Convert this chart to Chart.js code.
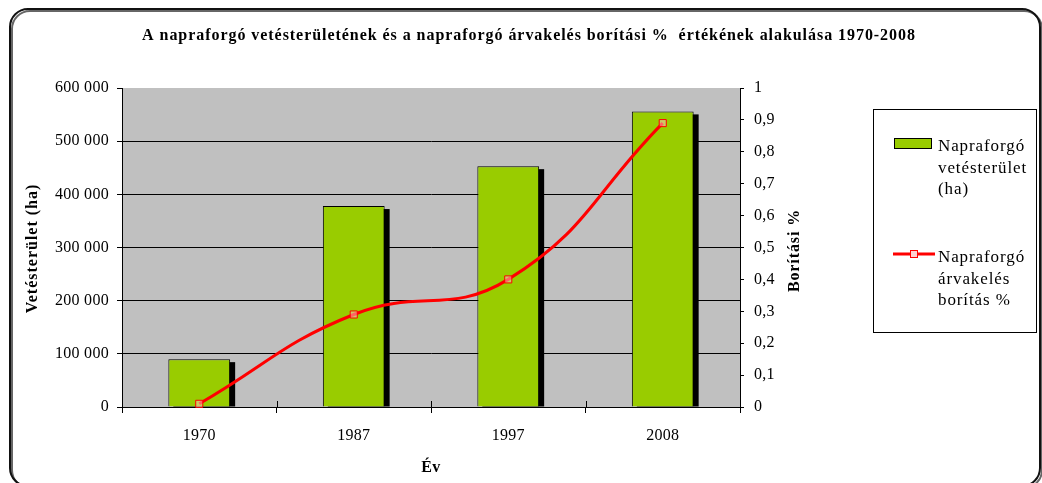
<!DOCTYPE html>
<html>
<head>
<meta charset="utf-8">
<script src="https://cdn.jsdelivr.net/npm/chart.js@4/dist/chart.umd.min.js"></script>
<style>
  body { margin: 0; background: #fff; }
  canvas { display: block; }
</style>
</head>
<body>
<canvas id="myChart" width="1042" height="483"></canvas>
<script>
// adatok
const years = ['1970', '1987', '1997', '2008'];
const vetesterulet = [90000, 378000, 453000, 556000];
const boritas = [0.01, 0.29, 0.40, 0.89];

const chartTitle = 'A napraforgó vetésterületének és a napraforgó árvakelés borítási %  értékének alakulása 1970-2008';
const leftTitle = 'Vetésterület (ha)';
const rightTitle = 'Borítási %';
const xTitle = 'Év';
const legendBar = ['Napraforgó', 'vetésterület', '(ha)'];
const legendLine = ['Napraforgó', 'árvakelés', 'borítás %'];

const serif = "'Liberation Serif', 'Times New Roman', serif";

function fmtThousands(v) {
  return String(v).replace(/\B(?=(\d{3})+(?!\d))/g, ' ');
}
function fmtComma(v) {
  const r = Math.round(v * 10) / 10;
  return (r % 1 === 0 ? String(r) : r.toFixed(1)).replace('.', ',');
}

function text(c, str, x, y, font, spacing, align, rot) {
  c.save();
  c.font = font;
  c.letterSpacing = spacing;
  c.fillStyle = '#000';
  c.textAlign = align || 'left';
  c.textBaseline = 'middle';
  c.translate(x, y);
  if (rot) c.rotate(rot);
  c.fillText(str, 0, 0);
  c.restore();
}

// keret, szürke háttér, árnyék, feliratok, jelmagyarázat
const decor = {
  id: 'decor',
  beforeDraw(chart) {
    const c = chart.ctx, a = chart.chartArea;
    c.save();
    c.fillStyle = '#C0C0C0';
    c.fillRect(a.left, a.top, a.right - a.left, a.bottom - a.top);
    c.restore();
    c.letterSpacing = '0.3px';
  },
  beforeDatasetDraw(chart, args) {
    if (args.meta.type !== 'bar') return;
    const c = chart.ctx;
    c.save();
    c.fillStyle = '#000';
    args.meta.data.forEach(el => {
      const p = el.getProps(['x', 'y', 'base', 'width'], true);
      c.fillRect(p.x - p.width / 2 + 5, p.y + 3, p.width, p.base - p.y - 3);
    });
    c.restore();
  },
  afterDraw(chart) {
    const c = chart.ctx, a = chart.chartArea;
    c.save();
    c.letterSpacing = '0px';

    // x tengely osztásjelek befelé
    const xs = chart.scales.x;
    const half = (xs.getPixelForValue(1) - xs.getPixelForValue(0)) / 2;
    c.strokeStyle = '#000';
    c.lineWidth = 1;
    c.beginPath();
    for (let i = 0; i <= years.length; i++) {
      const px = Math.round(xs.getPixelForValue(i) - half) + 0.5;
      c.moveTo(px, a.bottom);
      c.lineTo(px, a.bottom - 6);
    }
    c.stroke();

    const midY = (a.top + a.bottom) / 2;
    text(c, chartTitle, 529, 36, 'bold 16px ' + serif, '0.95px', 'center');
    text(c, leftTitle, 33, midY + 1, 'bold 16px ' + serif, '1px', 'center', -Math.PI / 2);
    text(c, rightTitle, 795, midY + 3, 'bold 16px ' + serif, '0.9px', 'center', -Math.PI / 2);
    text(c, xTitle, (a.left + a.right) / 2, 468, 'bold 16px ' + serif, '0.5px', 'center');

    // jelmagyarázat
    c.strokeStyle = '#000';
    c.lineWidth = 1;
    c.strokeRect(873.5, 109.5, 163, 223);
    legendBar.forEach((t, i) => text(c, t, 938, 147 + i * 21.5, '17px ' + serif, '0.9px'));
    legendLine.forEach((t, i) => text(c, t, 938, 258 + i * 21.5, '17px ' + serif, '0.9px'));
    c.fillStyle = '#99CC00';
    c.fillRect(894, 138, 38, 11);
    c.strokeRect(894.5, 138.5, 37, 10);
    c.strokeStyle = '#FF0000';
    c.lineWidth = 3;
    c.beginPath();
    c.moveTo(893, 254);
    c.lineTo(935, 254);
    c.stroke();
    c.lineWidth = 1;
    c.fillStyle = '#FFD0D0';
    c.fillRect(910, 250.5, 7, 7);
    c.strokeRect(910.5, 250.5, 7, 7);

    // lekerekített keret
    c.strokeStyle = '#111';
    c.lineWidth = 2;
    c.shadowColor = 'rgba(0,0,0,0.6)';
    c.shadowOffsetX = 2;
    c.shadowOffsetY = 2;
    c.beginPath();
    c.roundRect(10, 9, 1030, 477, 18);
    c.stroke();
    c.restore();
  }
};

const ctx = document.getElementById('myChart');

const mixedChart = new Chart(ctx, {
  data: {
    labels: years,
    datasets: [{
      type: 'line',
      label: 'Napraforgó árvakelés borítás %',
      data: boritas,
      yAxisID: 'y1',
      order: 1,
      borderColor: '#FF0000',
      borderWidth: 3,
      tension: 0.45,
      fill: false,
      clip: false,
      pointStyle: 'rect',
      pointRadius: 5,
      pointBorderWidth: 1,
      pointBorderColor: '#FF0000',
      pointBackgroundColor: 'rgba(255,200,200,0.5)'
    }, {
      type: 'bar',
      label: 'Napraforgó vetésterület (ha)',
      data: vetesterulet,
      yAxisID: 'y',
      order: 2,
      clip: 0,
      backgroundColor: '#99CC00',
      borderColor: '#000',
      borderWidth: 1,
      barPercentage: 0.4,
      categoryPercentage: 1
    }]
  },
  options: {
    responsive: false,
    animation: false,
    devicePixelRatio: 1,
    layout: { padding: { left: 10, right: 242, top: 88, bottom: 0 } },
    plugins: {
      legend: { display: false },
      tooltip: { enabled: false },
      title: { display: false }
    },
    scales: {
      x: {
        offset: true,
        grid: { display: true, drawOnChartArea: false, offset: true, tickLength: 6, color: '#000', tickColor: '#000' },
        border: { color: '#000', width: 1 },
        ticks: { color: '#000', padding: 13, font: { family: serif, size: 16 } },
        afterFit(scale) { scale.height = 76; }
      },
      y: {
        position: 'left',
        min: 0,
        max: 600000,
        ticks: { stepSize: 100000, color: '#000', padding: 8, font: { family: serif, size: 16 }, callback: v => fmtThousands(v) },
        grid: {
          color: c => (c.tick && c.tick.value === 600000) ? 'rgba(0,0,0,0)' : '#000',
          tickColor: '#000',
          tickLength: 5,
          lineWidth: 1
        },
        border: { color: '#000', width: 1 },
        afterFit(scale) { scale.width = 112; }
      },
      y1: {
        position: 'right',
        min: 0,
        max: 1,
        ticks: { stepSize: 0.1, color: '#000', padding: 10, font: { family: serif, size: 16 }, callback: v => fmtComma(v) },
        grid: { drawOnChartArea: false, tickLength: 4, color: '#000', tickColor: '#000' },
        border: { color: '#000', width: 1 },
        afterFit(scale) { scale.width = 60; }
      }
    }
  },
  plugins: [decor]
});
</script>
</body>
</html>
